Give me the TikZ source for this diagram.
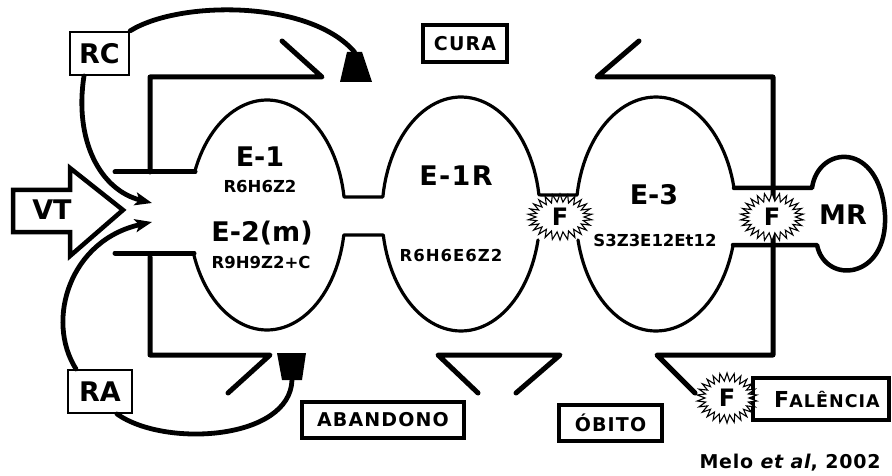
\documentclass[tikz,border=0pt]{standalone}
\usepackage{fontspec}
\setmainfont{DejaVu Sans}
\usetikzlibrary{arrows.meta,shapes.symbols}
\begin{document}
\begin{tikzpicture}[x=1pt,y=-1pt,
  frame/.style={line width=5pt, line join=round, line cap=round},
  bub/.style={line width=3.2pt, line join=round, line cap=round},
  chan/.style={line width=4.5pt, line join=round, line cap=round},
  curve/.style={line width=4.8pt, line cap=round},
  tipped/.style={curve, -{Stealth[length=17pt,width=13pt,inset=4pt]}},
  box/.style={draw, line width=3.2pt, fill=white, inner sep=0pt},
  thinbox/.style={draw, line width=2.4pt, fill=white, inner sep=0pt},
  big/.style={inner sep=0pt, font=\fontsize{27}{27}\selectfont\bfseries},
  small/.style={inner sep=0pt, font=\fontsize{16.5}{16.5}\selectfont\bfseries},
  lab/.style={font=\fontsize{19}{19}\selectfont\bfseries\addfontfeature{LetterSpace=6}},
  burst/.style={starburst, draw, fill=white, line width=1.1pt, line join=miter,
    starburst points=26, starburst point height=8pt, random starburst=0, inner sep=0pt,
    font=\fontsize{24}{24}\selectfont\bfseries},
]
\useasboundingbox (0,0) rectangle (892,476);

% frames
\draw[frame] (115,172) -- (195,172);
\draw[frame] (115,253) -- (194,253);
\draw[frame] (150,172) -- (150,77) -- (322,77) -- (282,41);
\draw[frame] (639,41) -- (597,77) -- (773,77) -- (773,355) -- (657,355) -- (695,393);
\draw[frame] (150,257) -- (150,355) -- (270,355) -- (228,393);
\draw[frame] (478,393) -- (438,355) -- (560,355) -- (516,393);

% bubbles top contour
\draw[bub] plot[domain=201.96:351,samples=50] ({267+78*cos(\x)},{215+115*sin(\x)})
  -- plot[domain=188.4:350.6,samples=50] ({461+79*cos(\x)},{214+117*sin(\x)})
  -- plot[domain=189.3:347.2,samples=50] ({656+80*cos(\x)},{214+117*sin(\x)});
% bubbles bottom contour
\draw[bub] plot[domain=15.4:167.2,samples=50] ({656+80*cos(\x)},{214+117*sin(\x)});
\draw[bub] plot[domain=12.8:169.66,samples=50] ({461+79*cos(\x)},{214+117*sin(\x)})
  -- plot[domain=10:160.7,samples=50] ({267+78*cos(\x)},{215+115*sin(\x)});
% channel to MR and MR loop
\draw[chan] (734,188) -- (812,188) .. controls (818,145) and (880,140) .. (885,215)
  .. controls (888,280) and (825,285) .. (817,245) -- (733,245);

% VT arrow
\draw[line width=4.5pt, line join=miter, fill=white] (13,190) -- (70,190) -- (70,168)
  -- (123,210) -- (70,256) -- (70,232) -- (13,232) -- cycle;
\node[big] (vt) at (52,210) {VT};

% boxes
\node[thinbox, minimum width=59pt, minimum height=43pt, big] (rc) at (99.5,53.5) {RC};
\node[thinbox, minimum width=64pt, minimum height=43pt, big] (ra) at (100,391.5) {RA};
\node[box, minimum width=84pt, minimum height=37pt, lab] (cura) at (465,43.5) {CURA};
\node[box, minimum width=162pt, minimum height=36pt, lab] (aband) at (383,420) {ABANDONO};
\node[box, minimum width=103pt, minimum height=36pt, lab] (obito) at (610.5,423) {ÓBITO};
\node[box, minimum width=136pt, minimum height=42pt] (falbox) at (821,399) {};

% trapezoids
\fill[line join=round] (347,52) -- (362,52) -- (372,82) -- (340,82) -- cycle;
\fill[line join=round] (277,353) -- (306,353) -- (302,380) -- (282,380) -- cycle;

% curves
\draw[curve] (rc.north east) .. controls (180,0) and (310,0) .. (354.5,52);
\draw[tipped] (84,76) .. controls (74,140) and (100,190) .. (152,203);
\draw[tipped] (76,369) .. controls (45,320) and (70,240) .. (152,222);
\draw[curve] (117,414) .. controls (165,448) and (290,440) .. (292,380);

% bursts
\node[burst, minimum width=64pt, minimum height=46pt] (f1) at (560,217) {F};
\node[burst, minimum width=63pt, minimum height=48pt] (f2) at (772,217) {F};
\node[burst, minimum width=60pt, minimum height=50pt] (f3) at (727,398) {F};

% texts
\node[inner sep=0pt, font=\bfseries\addfontfeature{LetterSpace=6}] (falt) at (827,400)
  {\fontsize{22}{22}\selectfont F\fontsize{17.5}{17.5}\selectfont ALÊNCIA};
\node[big] (e1) at (260,157) {E-1};
\node[small] (e1d) at (260,186) {R6H6Z2};
\node[big] (e2) at (262,233) {E-2(m)};
\node[small] (e2d) at (261,262) {R9H9Z2+C};
\node[big, font=\fontsize{27}{27}\selectfont\bfseries\addfontfeature{LetterSpace=5}] (e1r) at (456,176) {E-1R};
\node[small, font=\fontsize{16.5}{16.5}\selectfont\bfseries\addfontfeature{LetterSpace=6}] (e1rd) at (451,255) {R6H6E6Z2};
\node[big] (e3) at (654,195) {E-3};
\node[small] (e3d) at (655,240) {S3Z3E12Et12};
\node[big] (mr) at (843,215) {MR};
\node[inner sep=0pt, font=\fontsize{19}{19}\selectfont\bfseries\addfontfeature{LetterSpace=4}] (melo) at (790,463) {Melo \textit{et al}, 2002};
\end{tikzpicture}
\end{document}
